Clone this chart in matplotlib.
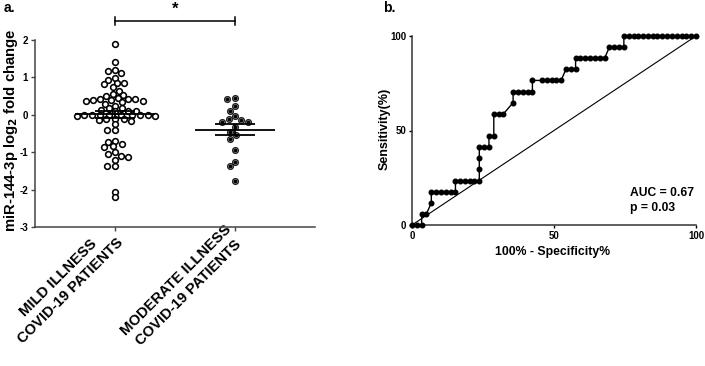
import matplotlib
matplotlib.use("Agg")
import matplotlib.pyplot as plt
import matplotlib.transforms as mtransforms
import numpy as np

plt.rcParams["font.family"] = ["Liberation Sans", "DejaVu Sans"]
plt.rcParams["font.weight"] = "bold"
plt.rcParams["axes.labelweight"] = "bold"

# ---- panel a data (log2 fold change) ----
GROUPS = ["MILD ILLNESS\nCOVID-19 PATIENTS", "MODERATE ILLNESS\nCOVID-19 PATIENTS"]
MILD = [1.90, 1.41, 1.21, 1.16, 1.12, 0.98, 0.94, 0.85, 0.85, 0.82, 0.73,
        0.64, 0.55, 0.53, 0.50, 0.44, 0.42, 0.42, 0.41, 0.40, 0.39, 0.38,
        0.36, 0.33, 0.30, 0.24, 0.18, 0.17, 0.13, 0.11, 0.11, 0.09,
        0.00, 0.00, 0.00, 0.00, 0.00, -0.01, -0.01, -0.01, -0.02, -0.02,
        -0.10, -0.12, -0.12, -0.14, -0.17, -0.25, -0.41, -0.41,
        -0.71, -0.73, -0.77, -0.84, -0.85, -1.00, -1.06, -1.09, -1.12, -1.20,
        -1.37, -1.38, -2.06, -2.21]
MODERATE = [0.46, 0.41, 0.24, 0.11, -0.02, -0.12, -0.13, -0.20, -0.20,
            -0.33, -0.45, -0.54, -0.65, -0.95, -1.25, -1.37, -1.78]
Y_TICKS_A = [-3, -2, -1, 0, 1, 2]

# ---- panel b data (ROC curve points, %) ----
ROC_FPR = [0, 1.7, 3.4,
           3.4, 5.1,
           6.8,
           6.8, 8.5, 10.2, 11.9, 13.6, 15.3,
           15.3, 17.0, 18.6, 20.3, 22.0, 23.7,
           23.7, 23.7,
           23.7, 25.4, 27.1,
           27.1, 28.8,
           28.8, 30.5, 32.2,
           35.6,
           35.6, 37.3, 39.0, 40.7, 42.4,
           42.4, 45.8, 47.5, 49.2, 50.8, 52.5,
           54.2, 55.9, 57.6,
           57.6, 59.3, 61.0, 62.7, 64.4, 66.1, 67.8,
           69.5, 71.2, 72.9, 74.6,
           74.6, 76.3, 78.0, 79.7, 81.4, 83.1, 84.7, 86.4, 88.1, 89.8,
           91.5, 93.2, 94.9, 96.6, 98.3, 100]
ROC_TPR = [0, 0, 0,
           5.9, 5.9,
           11.8,
           17.6, 17.6, 17.6, 17.6, 17.6, 17.6,
           23.5, 23.5, 23.5, 23.5, 23.5, 23.5,
           29.4, 35.3,
           41.2, 41.2, 41.2,
           47.1, 47.1,
           58.8, 58.8, 58.8,
           64.7,
           70.6, 70.6, 70.6, 70.6, 70.6,
           76.5, 76.5, 76.5, 76.5, 76.5, 76.5,
           82.4, 82.4, 82.4,
           88.2, 88.2, 88.2, 88.2, 88.2, 88.2, 88.2,
           94.1, 94.1, 94.1, 94.1,
           100, 100, 100, 100, 100, 100, 100, 100, 100, 100,
           100, 100, 100, 100, 100, 100]
TICKS_B = [0, 50, 100]
AUC_TEXT = "AUC = 0.67\np = 0.03"

W, H = 705, 366
fig = plt.figure(figsize=(W / 100, H / 100), dpi=100)


def swarm_x(ax, center, values, dw, dh):
    # beeswarm in pixel space with an elliptical footprint (dots may overlap
    # vertically a little, like the GraphPad row layout)
    trans = ax.transData
    vals = np.asarray(values, dtype=float)
    pts = trans.transform(np.column_stack([np.full(len(vals), center), vals]))
    cx = pts[0, 0]
    ys = pts[:, 1]
    order = np.argsort(-vals, kind="stable")
    placed = []
    offs = np.zeros(len(vals))
    for i in order:
        y = ys[i]
        cands = [0.0]
        for px, py in placed:
            dy = abs(py - y)
            if dy < dh:
                dx = dw * np.sqrt(1 - (dy / dh) ** 2)
                cands += [px + dx, px - dx]
        cands.sort(key=lambda c: (round(abs(c), 3), c))
        for c in cands:
            if all(((c - px) / dw) ** 2 + ((y - py) / dh) ** 2 >= 1 - 1e-6 for px, py in placed):
                break
        placed.append((c, y))
        offs[i] = c
    back = trans.inverted().transform(np.column_stack([cx + offs, ys]))
    return back[:, 0]


def mean_sem(ax, center, values):
    vals = np.asarray(values, dtype=float)
    m = vals.mean()
    sem = vals.std(ddof=1) / np.sqrt(len(vals))
    ax.hlines(m, center - 0.33, center + 0.33, color="black", lw=1.3, zorder=5)
    ax.hlines([m - sem, m + sem], center - 0.167, center + 0.167, color="black", lw=1.3, zorder=5)
    ax.vlines(center, m - sem, m + sem, color="black", lw=1.3, zorder=5)


# ---------------- panel a ----------------
ax_a = fig.add_axes([35 / W, 1 - 227 / H, (315 - 35) / W, (227 - 40) / H])
ax_a.set_xlim(-0.667, 1.667)
ax_a.set_ylim(-3, 2)

x_mild = swarm_x(ax_a, 0, MILD, 7.6, 5.0)
x_mod = swarm_x(ax_a, 1, MODERATE, 8.0, 6.0)
ax_a.scatter(x_mild, MILD, s=17, facecolors="white", edgecolors="black", linewidths=1.15, zorder=3, clip_on=False)
ax_a.scatter(x_mod, MODERATE, s=17, facecolors="#b5b5b5", edgecolors="#222222", linewidths=1.0, zorder=3, clip_on=False)
ax_a.scatter(x_mod, MODERATE, s=2.5, color="black", zorder=4, clip_on=False)
mean_sem(ax_a, 0, MILD)
mean_sem(ax_a, 1, MODERATE)

ax_a.set_xticks([0, 1])
ax_a.set_xticklabels(GROUPS, rotation=45, ha="right", va="center", rotation_mode="anchor",
                     multialignment="center", fontsize=10.6, fontweight="bold", linespacing=1.35)
shift = mtransforms.ScaledTranslation(4 / 100, 0, fig.dpi_scale_trans)
for lbl in ax_a.get_xticklabels():
    lbl.set_transform(lbl.get_transform() + shift)
ax_a.set_yticks(Y_TICKS_A)
ax_a.set_yticklabels([str(t) for t in Y_TICKS_A], fontsize=7, fontweight="bold")
ax_a.tick_params(axis="both", length=3, width=1, color="#444444", pad=2)
ax_a.tick_params(axis="x", pad=2)
for side in ("top", "right"):
    ax_a.spines[side].set_visible(False)
for side in ("left", "bottom"):
    ax_a.spines[side].set_color("#444444")
    ax_a.spines[side].set_linewidth(1.1)
ax_a.set_ylabel("miR-144-3p log$_\\mathbf{2}$ fold change", fontsize=10.7, fontweight="bold")
ax_a.yaxis.set_label_coords(-0.052, 0.52)

# significance bracket
yb = 2.5
ax_a.plot([0, 1], [yb, yb], color="black", lw=1.1, clip_on=False)
ax_a.plot([0, 0], [yb - 0.11, yb + 0.11], color="black", lw=1.1, clip_on=False)
ax_a.plot([1, 1], [yb - 0.11, yb + 0.11], color="black", lw=1.1, clip_on=False)
ax_a.text(0.5, yb + 0.12, "*", ha="center", va="bottom", fontsize=12, fontweight="bold")

fig.text(4 / W, 1 - 8 / H, "a.", fontsize=10, fontweight="bold", va="center", ha="left")

# ---------------- panel b ----------------
ax_b = fig.add_axes([412 / W, 1 - 225 / H, 284 / W, 189 / H])
ax_b.set_xlim(0, 100)
ax_b.set_ylim(0, 100)
ax_b.plot([0, 100], [0, 100], color="black", lw=0.8, zorder=2)
ax_b.plot(ROC_FPR, ROC_TPR, color="black", lw=1.0, marker="o", markersize=3.3, zorder=3, clip_on=False)
ax_b.set_xticks(TICKS_B)
ax_b.set_yticks(TICKS_B)
ax_b.set_xticklabels([str(t) for t in TICKS_B], fontsize=7, fontweight="bold")
ax_b.set_yticklabels([str(t) for t in TICKS_B], fontsize=7, fontweight="bold")
ax_b.tick_params(axis="both", length=2.5, width=1, pad=1.5)
for side in ("top", "right"):
    ax_b.spines[side].set_visible(False)
for side in ("left", "bottom"):
    ax_b.spines[side].set_linewidth(1.1)
    ax_b.spines[side].set_color("#333333")
ax_b.set_xlabel("100% - Specificity%", fontsize=8.8, fontweight="bold")
ax_b.xaxis.set_label_coords(0.496, -0.11)
ax_b.set_ylabel("Sensitivity(%)", fontsize=9, fontweight="bold")
ax_b.yaxis.set_label_coords(-0.075, 0.51)
ax_b.text(76.8, 13, AUC_TEXT, fontsize=8.7, fontweight="bold", ha="left", va="center", linespacing=1.3)

fig.text(383 / W, 1 - 8 / H, "b.", fontsize=10, fontweight="bold", va="center", ha="left")

fig.savefig("out.png", dpi=100)
